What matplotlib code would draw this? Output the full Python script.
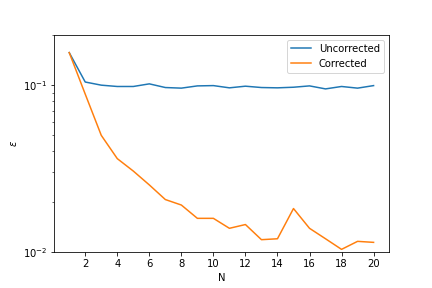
import matplotlib
matplotlib.use("Agg")
import matplotlib.pyplot as plt

N = list(range(1, 21))
uncorrected = [0.156, 0.104, 0.0996, 0.0978, 0.0978, 0.1014, 0.0964, 0.0956, 0.0986, 0.0990,
               0.0960, 0.0982, 0.0964, 0.0960, 0.0968, 0.0986, 0.0946, 0.0978, 0.0956, 0.0990]
corrected = [0.156, 0.088, 0.0499, 0.0362, 0.0305, 0.0252, 0.0206, 0.0191, 0.0159, 0.0159,
             0.01386, 0.0146, 0.01185, 0.0120, 0.0182, 0.01386, 0.0120, 0.01037, 0.01158, 0.01142]

fig = plt.figure(figsize=(6, 4), dpi=72)
ax = fig.add_axes([0.125, 0.125, 0.775, 0.755])
ax.plot(N, uncorrected, label="Uncorrected")
ax.plot(N, corrected, label="Corrected")
ax.set_yscale("log")
ax.set_ylim(1e-2, 2e-1)
ax.set_xticks([2, 4, 6, 8, 10, 12, 14, 16, 18, 20])
ax.set_xlabel("N")
ax.set_ylabel(r"$\epsilon$")
ax.legend(loc="upper right")
fig.savefig("out.png", dpi=72)
